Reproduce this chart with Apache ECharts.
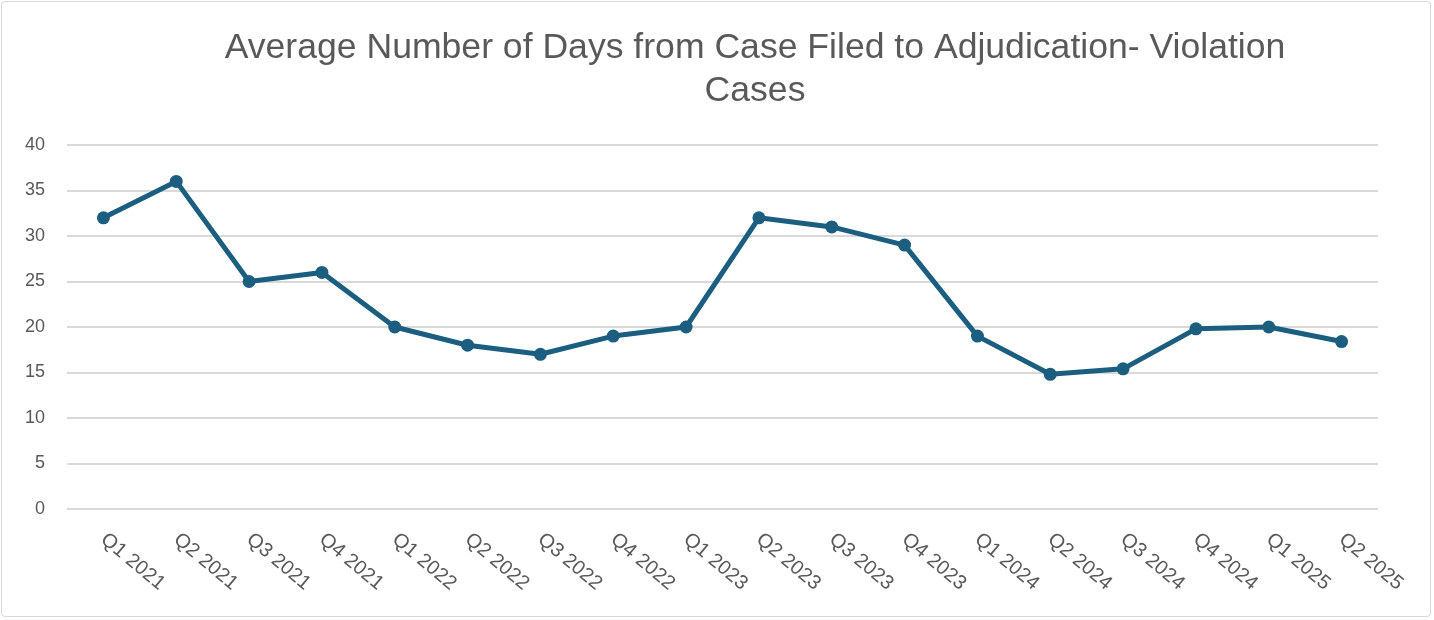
<!DOCTYPE html>
<html><head><meta charset="utf-8">
<script src="https://cdn.jsdelivr.net/npm/echarts@6/dist/echarts.min.js"></script>
<style>
html,body{margin:0;padding:0;background:#fff;}
#frame{position:absolute;left:1px;top:1px;width:1430px;height:616px;border:1px solid #d9d9d9;border-radius:4px;box-sizing:border-box;}
#c{position:absolute;left:0;top:0;width:1434px;height:620px;}
</style></head>
<body>
<div id="frame"></div>
<div id="c"></div>
<script>
const titleText = "Average Number of Days from Case Filed to Adjudication- Violation\nCases";
const categories = ["Q1 2021","Q2 2021","Q3 2021","Q4 2021","Q1 2022","Q2 2022","Q3 2022","Q4 2022","Q1 2023","Q2 2023","Q3 2023","Q4 2023","Q1 2024","Q2 2024","Q3 2024","Q4 2024","Q1 2025","Q2 2025"];
const values = [32,36,25,26,20,18,17,19,20,32,31,29,19,14.8,15.4,19.8,20,18.4];
const yMin = 0, yMax = 40, yInterval = 5;

const chart = echarts.init(document.getElementById('c'), null, {renderer:'canvas'});
chart.setOption({
  animation:false,
  backgroundColor:'transparent',
  title:{
    text:titleText,
    left:750, textAlign:'center', top:22,
    textStyle:{fontFamily:'Liberation Sans, Arial, sans-serif',fontSize:35.6,fontWeight:'normal',color:'#595959',lineHeight:43}
  },
  grid:{left:67,right:56,top:145,bottom:111,containLabel:false},
  xAxis:{
    type:'category', data:categories, boundaryGap:true,
    axisLine:{show:false}, axisTick:{show:false},
    axisLabel:{rotate:-40,interval:0,color:'#595959',fontSize:20,fontFamily:'Liberation Sans, Arial, sans-serif',margin:28}
  },
  yAxis:{
    type:'value', min:yMin, max:yMax, interval:yInterval,
    axisLine:{show:false}, axisTick:{show:false},
    axisLabel:{color:'#595959',fontSize:18,fontFamily:'Liberation Sans, Arial, sans-serif',margin:22},
    splitLine:{lineStyle:{color:'#d9d9d9',width:2}}
  },
  series:[{
    type:'line', data:values,
    symbol:'circle', symbolSize:13,
    lineStyle:{color:'#1b5e7f',width:5},
    itemStyle:{color:'#1b5e7f'}
  }]
});
</script>
</body></html>
